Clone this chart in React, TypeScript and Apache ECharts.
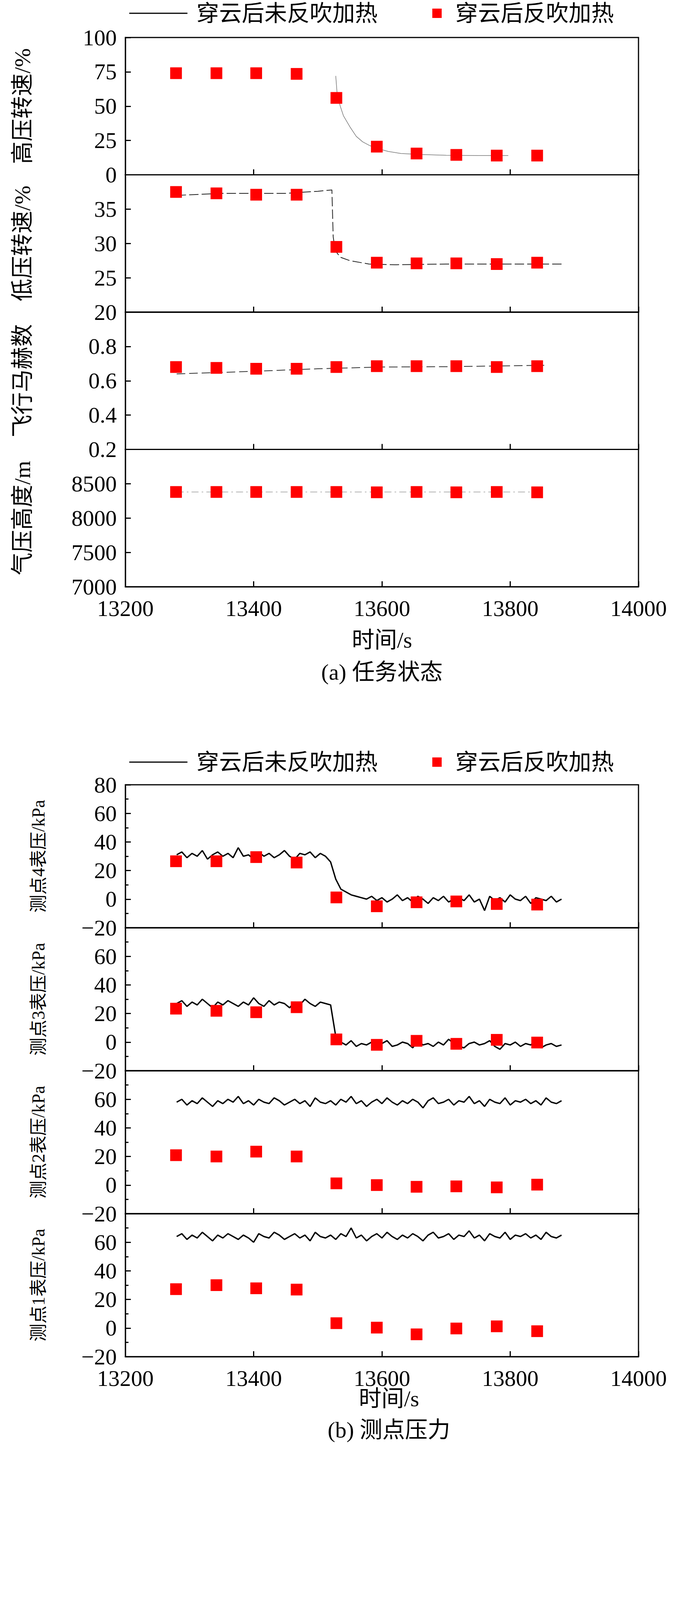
import { useEffect, useRef } from 'react'
import * as echarts from 'echarts'

const LINE_NAME = '穿云后未反吹加热'
const DOT_NAME = '穿云后反吹加热'

// scatter sample times (s)
const dotTimes = [13279, 13342, 13404, 13467, 13529, 13592, 13654, 13716, 13779, 13842]

// (a) mission state
const hpDots = [74, 74, 74, 73.5, 56, 20.5, 15.5, 14.5, 14, 14]
const lpDots = [37.5, 37.3, 37.1, 37.1, 29.5, 27.2, 27.1, 27.1, 27, 27.2]
const machDots = [0.68, 0.675, 0.67, 0.67, 0.68, 0.685, 0.685, 0.685, 0.68, 0.685]
const altDots = [8380, 8380, 8380, 8380, 8380, 8375, 8380, 8375, 8380, 8375]

const hpLine = [[13528, 72], [13530, 60], [13535, 50], [13540, 43], [13550, 35], [13560, 28], [13570, 24], [13580, 21.5], [13590, 19.5], [13610, 17], [13630, 15.5], [13660, 14.8], [13700, 14.2], [13750, 14], [13797, 14]]
const lpLine = [[13280, 37], [13350, 37.3], [13450, 37.3], [13500, 37.6], [13522, 37.8], [13524, 31], [13527, 29], [13535, 28], [13550, 27.5], [13580, 27], [13620, 26.9], [13700, 27], [13800, 27], [13880, 27]]
const machLine = [[13280, 0.64], [13400, 0.655], [13500, 0.67], [13600, 0.68], [13700, 0.682], [13853, 0.69]]
const altLine = [[13280, 8380], [13850, 8380]]

// (b) measured pressure
const p4Dots = [26.5, 26.5, 29.4, 25.6, 1.2, -5, -2.2, -1.6, -3.4, -3.8]
const p3Dots = [23.4, 21.9, 20.9, 24.4, 1.9, -1.9, 0.9, -1.2, 1.6, -0.3]
const p2Dots = [20.9, 20, 23.4, 20, 1.2, 0, -1.2, -0.9, -1.6, 0.3]
const p1Dots = [27.2, 30, 27.8, 26.9, 3.4, 0.3, -4.4, -0.3, 1.2, -2.2]

// recorded traces, sampled every 8 s from 13280 s
const traceStart = 13280
const traceStep = 8
const p4Trace = [31, 33, 29, 32, 30, 34, 28, 31, 33, 30, 32, 29, 36, 30, 31, 28, 33, 30, 32, 29, 31, 34, 30, 28, 32, 31, 33, 29, 32, 30,
  26, 14, 7, 5, 3, 2, 1, 0, 2, -1, 1, -2, 0, 3, -1, 1, -2, 2, 0, -3, 1, -1, 2, -2, 0, 1, -1, 3, -2, 0, -8, 2, -1, 1, -2, 3, 0, -1, 2, -3, 1, 0, -1, 2, -2, 0]
const p3Trace = [27, 29, 25, 28, 26, 30, 27, 24, 28, 26, 29, 27, 25, 28, 26, 31, 27, 25, 29, 26, 28, 27, 24, 28, 26, 30, 27, 25, 28, 27,
  26, 4, 0, -2, 1, -3, -1, -2, 0, -4, -1, 1, -3, -2, 0, -1, -4, 1, -2, -1, -3, 0, -2, 2, -1, -3, -4, -1, 0, -2, -1, 1, -3, -5, -1, -2, 0, -3, -1, -2, 1, -4, -2, -1, -3, -2]
const p2Trace = [58, 60, 56, 59, 57, 61, 58, 55, 59, 57, 60, 58, 62, 57, 59, 56, 60, 58, 57, 61, 59, 56, 58, 60, 57, 59, 55, 61, 58, 57,
  59, 56, 60, 58, 62, 57, 59, 55, 58, 60, 57, 61, 58, 56, 59, 57, 60, 58, 54, 59, 61, 57, 58, 60, 56, 59, 58, 62, 57, 59, 55, 60, 58, 57, 61, 56, 59, 58, 60, 57, 59, 56, 61, 58, 57, 59]
const p1Trace = [64, 66, 62, 65, 63, 67, 64, 61, 65, 63, 66, 64, 62, 65, 63, 60, 66, 64, 63, 67, 65, 62, 64, 66, 63, 65, 61, 67, 64, 63,
  65, 62, 66, 64, 70, 63, 65, 61, 64, 66, 63, 67, 64, 62, 65, 63, 66, 64, 61, 65, 67, 63, 64, 66, 62, 65, 64, 68, 63, 65, 61, 66, 64, 63, 67, 62, 65, 64, 66, 63, 65, 62, 67, 64, 63, 65]

const SERIF = '"Liberation Serif", "Noto Sans CJK SC", serif'
const FS = 58

type Panel = {
  name: string
  min: number
  max: number
  interval: number
  dots: number[]
  line: number[][]
  lineType: any
  lineColor: string
  lineWidth: number
  minor: boolean
}

const toPairs = (t: number[]) => t.map((v, i) => [traceStart + i * traceStep, v])

const panelsA: Panel[] = [
  { name: '高压转速/%', min: 0, max: 100, interval: 25, dots: hpDots, line: hpLine, lineType: 'solid', lineColor: '#777', lineWidth: 1.5, minor: false },
  { name: '低压转速/%', min: 20, max: 40, interval: 5, dots: lpDots, line: lpLine, lineType: [24, 8], lineColor: '#222', lineWidth: 2, minor: false },
  { name: '飞行马赫数', min: 0.2, max: 1.0, interval: 0.2, dots: machDots, line: machLine, lineType: [22, 10], lineColor: '#333', lineWidth: 2, minor: false },
  { name: '气压高度/m', min: 7000, max: 9000, interval: 500, dots: altDots, line: altLine, lineType: [18, 8, 4, 8], lineColor: '#999', lineWidth: 1.5, minor: false },
]
const panelsB: Panel[] = [
  { name: '测点4表压/kPa', min: -20, max: 80, interval: 20, dots: p4Dots, line: toPairs(p4Trace), lineType: 'solid', lineColor: '#000', lineWidth: 3.5, minor: true },
  { name: '测点3表压/kPa', min: -20, max: 80, interval: 20, dots: p3Dots, line: toPairs(p3Trace), lineType: 'solid', lineColor: '#000', lineWidth: 3.5, minor: true },
  { name: '测点2表压/kPa', min: -20, max: 80, interval: 20, dots: p2Dots, line: toPairs(p2Trace), lineType: 'solid', lineColor: '#000', lineWidth: 3.5, minor: true },
  { name: '测点1表压/kPa', min: -20, max: 80, interval: 20, dots: p1Dots, line: toPairs(p1Trace), lineType: 'solid', lineColor: '#000', lineWidth: 3.5, minor: true },
]

const LEFT = 321
const WIDTH = 1314

export default function App() {
  const ref = useRef<HTMLDivElement>(null)

  useEffect(() => {
    document.body.style.margin = '0'
    if (!ref.current) return
    const chart = echarts.init(ref.current, null, { renderer: 'svg' })

    const grids: any[] = []
    const xAxes: any[] = []
    const yAxes: any[] = []
    const series: any[] = []

    const addHalf = (panels: Panel[], top: number, h: number, nameGap: number, nameSize: number) => {
      panels.forEach((p, i) => {
        const idx = grids.length
        const last = i === panels.length - 1
        grids.push({ left: LEFT, width: WIDTH, top: top + i * h, height: h, show: true, borderColor: '#000', borderWidth: 3, backgroundColor: 'transparent' })
        xAxes.push({
          gridIndex: idx, type: 'value', min: 13200, max: 14000, interval: 200,
          axisLine: { show: true, onZero: false, lineStyle: { color: '#000', width: 3 } },
          axisTick: { inside: true, length: 14, lineStyle: { color: '#000', width: 3 } },
          axisLabel: { show: last, color: '#000', fontSize: FS, fontFamily: SERIF, margin: 26, formatter: (v: number) => String(v) },
          splitLine: { show: false },
        })
        yAxes.push({
          gridIndex: idx, type: 'value', min: p.min, max: p.max, interval: p.interval,
          name: p.name, nameLocation: 'middle', nameRotate: 90, nameGap,
          nameTextStyle: { color: '#000', fontSize: nameSize, fontFamily: SERIF },
          axisLine: { show: true, onZero: false, lineStyle: { color: '#000', width: 3 } },
          axisTick: { inside: true, length: 14, lineStyle: { color: '#000', width: 3 } },
          minorTick: { show: p.minor, splitNumber: 2, length: 8, lineStyle: { color: '#000', width: 3 } },
          axisLabel: {
            color: '#000', fontSize: FS, fontFamily: SERIF, margin: 22,
            formatter: (v: number) => {
              if (i > 0 && Math.abs(v - p.max) < 1e-9) return ''
              const s = p.interval < 1 ? v.toFixed(1) : String(v)
              return s.replace('-', '−')
            },
          },
          splitLine: { show: false },
        })
        series.push({
          name: LINE_NAME, type: 'line', xAxisIndex: idx, yAxisIndex: idx, data: p.line,
          showSymbol: false, lineStyle: { color: p.lineColor, width: p.lineWidth, type: p.lineType }, z: 2,
        })
        series.push({
          name: DOT_NAME, type: 'scatter', xAxisIndex: idx, yAxisIndex: idx,
          data: dotTimes.map((t, k) => [t, p.dots[k]]),
          symbol: 'rect', symbolSize: 30, itemStyle: { color: '#ff0000', opacity: 1 }, z: 3,
        })
      })
    }
    addHalf(panelsA, 96, 351.5, 235, FS)
    addHalf(panelsB, 2009, 366, 200, 46)

    const txt = (x: number, y: number, text: string, align = 'center') => ({
      type: 'text', x, y,
      style: { text, fill: '#000', font: `${FS}px ${SERIF}`, textAlign: align, textVerticalAlign: 'middle' },
    })
    const legend = (y: number) => [
      { type: 'line', shape: { x1: 331, y1: y, x2: 480, y2: y }, style: { stroke: '#000', lineWidth: 3 } },
      txt(503, y, LINE_NAME, 'left'),
      { type: 'rect', shape: { x: 1107, y: y - 12, width: 24, height: 24 }, style: { fill: '#ff0000' } },
      txt(1166, y, DOT_NAME, 'left'),
    ]

    chart.setOption({
      animation: false,
      backgroundColor: '#fff',
      grid: grids,
      xAxis: xAxes,
      yAxis: yAxes,
      series,
      graphic: [
        ...legend(34),
        txt(978, 1638, '时间/s'),
        txt(978, 1720, '(a) 任务状态'),
        ...legend(1951),
        txt(996, 3580, '时间/s'),
        txt(996, 3660, '(b) 测点压力'),
      ],
    })

    return () => chart.dispose()
  }, [])

  return <div ref={ref} style={{ width: 1772, height: 4167 }} />
}
